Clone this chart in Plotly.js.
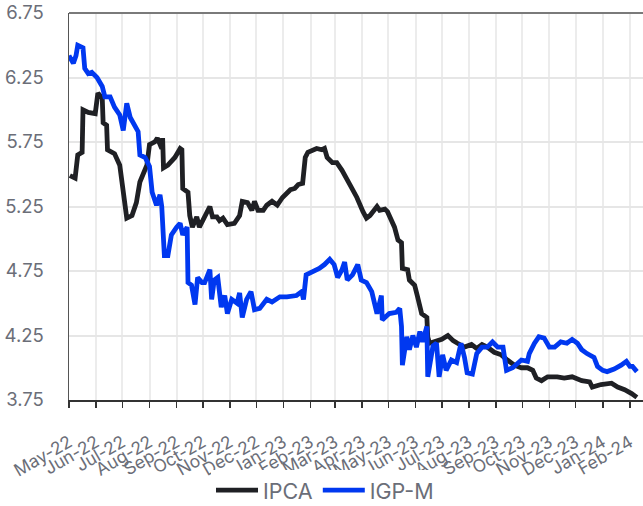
<!DOCTYPE html>
<html>
<head>
<meta charset="utf-8">
<script src="https://cdn.plot.ly/plotly-3.0.1.min.js"></script>
<style>html,body{margin:0;padding:0;background:#fff}#chart{width:643px;height:506px}</style>
</head>
<body>
<div id="chart"></div>
<script>
const ipcaDates = ["2022-05-02","2022-05-08","2022-05-11","2022-05-16","2022-05-17","2022-05-23","2022-05-31","2022-06-03","2022-06-08","2022-06-09","2022-06-13","2022-06-14","2022-06-22","2022-06-28","2022-07-06","2022-07-12","2022-07-17","2022-07-21","2022-07-29","2022-08-01","2022-08-07","2022-08-10","2022-08-15","2022-08-16","2022-08-17","2022-08-22","2022-08-30","2022-09-05","2022-09-07","2022-09-08","2022-09-14","2022-09-16","2022-09-19","2022-09-24","2022-09-27","2022-10-03","2022-10-09","2022-10-12","2022-10-17","2022-10-20","2022-10-24","2022-10-29","2022-11-06","2022-11-12","2022-11-15","2022-11-21","2022-11-26","2022-11-29","2022-12-03","2022-12-09","2022-12-13","2022-12-19","2022-12-25","2022-12-31","2023-01-05","2023-01-09","2023-01-14","2023-01-18","2023-01-23","2023-01-26","2023-01-29","2023-02-03","2023-02-08","2023-02-14","2023-02-17","2023-02-20","2023-02-26","2023-03-03","2023-03-09","2023-03-18","2023-03-26","2023-04-02","2023-04-06","2023-04-10","2023-04-13","2023-04-18","2023-04-21","2023-04-27","2023-04-30","2023-05-05","2023-05-08","2023-05-12","2023-05-16","2023-05-17","2023-05-23","2023-05-25","2023-05-31","2023-06-03","2023-06-08","2023-06-14","2023-06-15","2023-06-17","2023-06-23","2023-07-01","2023-07-08","2023-07-14","2023-07-19","2023-07-27","2023-08-04","2023-08-10","2023-08-16","2023-08-22","2023-08-30","2023-09-07","2023-09-14","2023-09-22","2023-09-30","2023-10-07","2023-10-13","2023-10-17","2023-10-23","2023-10-30","2023-11-10","2023-11-18","2023-11-27","2023-12-08","2023-12-17","2023-12-20","2023-12-30","2024-01-11","2024-01-18","2024-01-26","2024-02-03","2024-02-09"];
const ipcaValues = [5.49,5.47,5.65,5.67,6.00,5.98,5.97,6.13,6.09,5.90,5.88,5.69,5.66,5.57,5.16,5.18,5.28,5.44,5.57,5.73,5.75,5.78,5.70,5.78,5.55,5.57,5.63,5.70,5.69,5.39,5.36,5.18,5.09,5.17,5.09,5.17,5.25,5.17,5.17,5.14,5.16,5.11,5.12,5.18,5.29,5.28,5.22,5.29,5.22,5.22,5.26,5.29,5.26,5.32,5.35,5.38,5.39,5.42,5.43,5.63,5.67,5.69,5.70,5.69,5.70,5.63,5.59,5.59,5.53,5.42,5.32,5.21,5.16,5.18,5.21,5.25,5.22,5.23,5.21,5.13,5.09,4.99,4.97,4.77,4.76,4.68,4.64,4.56,4.42,4.39,4.24,4.19,4.20,4.22,4.25,4.21,4.19,4.16,4.18,4.15,4.18,4.16,4.12,4.10,4.06,4.02,4.00,4.00,3.98,3.92,3.90,3.93,3.93,3.92,3.93,3.90,3.89,3.85,3.87,3.88,3.85,3.83,3.80,3.77];

const igpmDates = ["2022-05-01","2022-05-06","2022-05-09","2022-05-11","2022-05-17","2022-05-19","2022-05-23","2022-05-27","2022-06-02","2022-06-08","2022-06-11","2022-06-17","2022-06-22","2022-06-28","2022-07-02","2022-07-06","2022-07-10","2022-07-15","2022-07-19","2022-07-21","2022-07-27","2022-08-01","2022-08-04","2022-08-09","2022-08-13","2022-08-15","2022-08-16","2022-08-18","2022-08-22","2022-08-26","2022-09-01","2022-09-05","2022-09-08","2022-09-13","2022-09-14","2022-09-18","2022-09-22","2022-09-25","2022-09-30","2022-10-03","2022-10-09","2022-10-11","2022-10-14","2022-10-18","2022-10-22","2022-10-26","2022-10-29","2022-11-03","2022-11-09","2022-11-12","2022-11-15","2022-11-20","2022-11-25","2022-11-29","2022-12-05","2022-12-13","2022-12-19","2022-12-28","2023-01-05","2023-01-16","2023-01-22","2023-01-24","2023-01-27","2023-02-03","2023-02-11","2023-02-17","2023-02-23","2023-02-28","2023-03-04","2023-03-09","2023-03-12","2023-03-15","2023-03-21","2023-03-27","2023-03-31","2023-04-06","2023-04-12","2023-04-18","2023-04-23","2023-04-24","2023-05-02","2023-05-10","2023-05-14","2023-05-16","2023-05-17","2023-05-22","2023-05-25","2023-05-29","2023-06-02","2023-06-06","2023-06-09","2023-06-14","2023-06-15","2023-06-21","2023-06-25","2023-06-28","2023-07-02","2023-07-06","2023-07-12","2023-07-18","2023-07-21","2023-07-23","2023-07-27","2023-07-30","2023-08-05","2023-08-10","2023-08-16","2023-08-22","2023-08-28","2023-09-03","2023-09-09","2023-09-13","2023-09-20","2023-09-28","2023-09-30","2023-10-07","2023-10-09","2023-10-15","2023-10-20","2023-10-26","2023-11-01","2023-11-07","2023-11-14","2023-11-21","2023-11-27","2023-12-03","2023-12-08","2023-12-14","2023-12-22","2023-12-26","2024-01-01","2024-01-06","2024-01-14","2024-01-22","2024-01-28","2024-02-01","2024-02-04","2024-02-09"];
const igpmValues = [6.42,6.36,6.42,6.50,6.48,6.32,6.28,6.29,6.25,6.18,6.10,6.10,6.02,5.96,5.84,6.05,5.94,5.88,5.83,5.65,5.63,5.56,5.36,5.26,5.34,5.25,5.03,4.87,4.87,5.03,5.09,5.12,5.03,5.09,4.66,4.64,4.49,4.70,4.66,4.66,4.76,4.53,4.68,4.70,4.47,4.56,4.42,4.53,4.50,4.58,4.39,4.53,4.59,4.45,4.46,4.53,4.51,4.55,4.55,4.56,4.59,4.53,4.72,4.74,4.77,4.80,4.84,4.80,4.70,4.76,4.82,4.68,4.72,4.80,4.68,4.66,4.59,4.42,4.56,4.37,4.42,4.43,4.46,4.32,4.02,4.24,4.14,4.25,4.16,4.28,4.20,4.32,3.93,4.17,4.19,3.93,4.10,3.98,4.06,4.04,4.14,4.19,4.08,3.96,3.95,4.11,4.16,4.16,4.20,4.16,4.16,3.98,4.00,4.04,4.06,4.05,4.11,4.19,4.24,4.23,4.16,4.16,4.20,4.19,4.22,4.19,4.14,4.11,4.08,4.01,3.98,3.97,3.99,4.02,4.05,4.01,4.01,3.97];

const seriesNames = ["IPCA", "IGP-M"];
const yTicks = [3.75, 4.25, 4.75, 5.25, 5.75, 6.25, 6.75];

const fontFam = "Inter, 'Noto Sans', sans-serif";
const grayText = "#6b6e78";

const traces = [
  {x: ipcaDates, y: ipcaValues, name: seriesNames[0], type: "scatter", mode: "lines",
   line: {color: "#1f2024", width: 4.8, shape: "linear"}},
  {x: igpmDates, y: igpmValues, name: seriesNames[1], type: "scatter", mode: "lines",
   line: {color: "#0038f0", width: 4.8, shape: "linear"}}
];

const layout = {
  width: 643, height: 506,
  margin: {l: 69, r: 0, t: 13, b: 106, autoexpand: false},
  paper_bgcolor: "#fff", plot_bgcolor: "#fff",
  font: {family: fontFam, color: grayText},
  showlegend: true,
  legend: {orientation: "h", x: 0.446, xanchor: "center", y: -0.233, yanchor: "middle",
           font: {size: 21.5, color: grayText, family: fontFam}, itemwidth: 42},
  xaxis: {
    type: "date", range: ["2022-05-01", "2024-02-16"], automargin: false,
    tickmode: "linear", tick0: "2022-05-01", dtick: "M1", tickformat: "%b-%y",
    tickangle: -30, tickfont: {size: 17.5, color: grayText},
    ticks: "outside", ticklen: 6, tickwidth: 1.5, tickcolor: "#333",
    showline: true, linecolor: "#333", linewidth: 1.5,
    showgrid: true, gridcolor: "#ececec", gridwidth: 2,
    zeroline: false, ticklabelstandoff: 18
  },
  yaxis: {
    range: [3.75, 6.75], tickvals: yTicks, ticktext: yTicks.map(v => v.toFixed(2)),
    tickfont: {size: 18.5, color: grayText}, automargin: false,
    ticks: "", showline: true, linecolor: "#555", linewidth: 1.5,
    showgrid: true, gridcolor: "#e6e6e6", gridwidth: 2,
    zeroline: false, ticklabelstandoff: 20
  },
  shapes: [
    {type: "line", xref: "paper", yref: "paper", x0: 0, x1: 1, y0: 1, y1: 1,
     line: {color: "#7a7a7a", width: 2}}
  ]
};

Plotly.newPlot("chart", traces, layout, {displayModeBar: false, staticPlot: true});
</script>
</body>
</html>
